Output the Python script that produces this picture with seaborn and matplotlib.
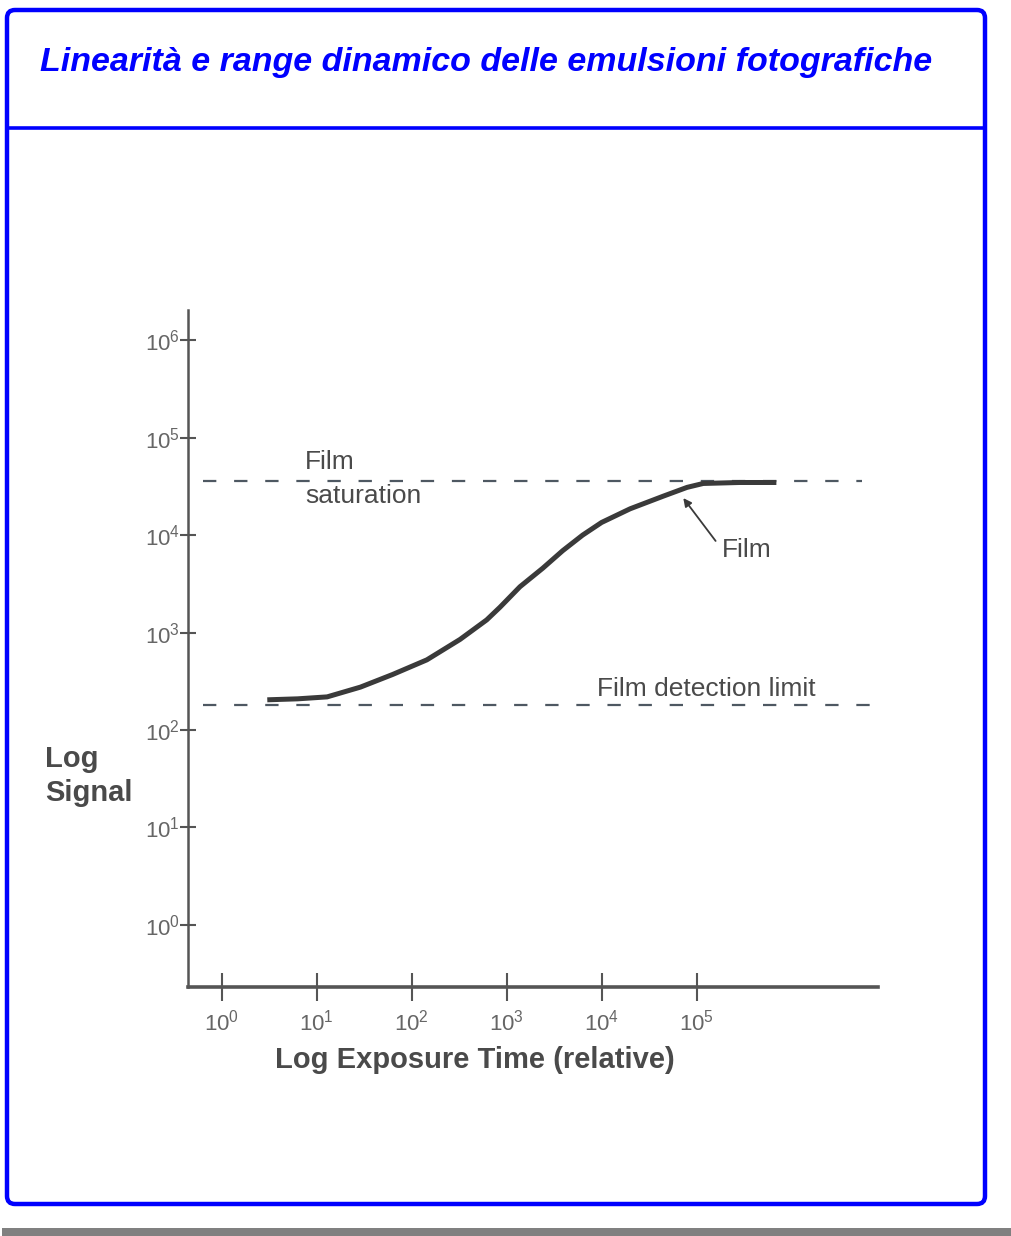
import numpy as np
import matplotlib
matplotlib.use('Agg')
import matplotlib.pyplot as plt
import seaborn as sns
from matplotlib.patches import FancyBboxPatch, Rectangle
from matplotlib.lines import Line2D
from matplotlib.ticker import FixedLocator, NullLocator, LogFormatterMathtext

sns.set_style('white')
plt.rcParams['font.family'] = ['Liberation Sans', 'DejaVu Sans']
plt.rcParams['mathtext.fontset'] = 'custom'
plt.rcParams['mathtext.rm'] = 'Liberation Sans'

# --- data (log10 units) ---
log_exposure = [0.48, 0.80, 1.11, 1.46, 1.80, 2.16, 2.51, 2.79, 2.93, 3.14,
                3.38, 3.59, 3.80, 4.00, 4.30, 4.65, 4.90, 5.07, 5.45, 5.84]
log_signal = [2.31, 2.32, 2.34, 2.44, 2.57, 2.72, 2.93, 3.13, 3.26, 3.47,
              3.66, 3.84, 4.00, 4.13, 4.27, 4.40, 4.49, 4.53, 4.54, 4.54]

saturation_level = 4.56
saturation_span = [-0.20, 6.74]
detection_level = 2.26
detection_span = [-0.20, 6.89]

x_tick_exp = [0, 1, 2, 3, 4, 5]
y_tick_exp = [0, 1, 2, 3, 4, 5, 6]

title = 'Linearità e range dinamico delle emulsioni fotografiche'

# --- figure (pixel helper: y measured from top) ---
W, H = 1011, 1236
fig = plt.figure(figsize=(W / 100, H / 100), dpi=100)
fig.patch.set_facecolor('white')


def px(x, y):
    return x / 100, (H - y) / 100


box_blue = '#0000ff'
fig.add_artist(FancyBboxPatch(px(7, 1204), 978 / 100, 1194 / 100,
                              boxstyle='round,pad=0,rounding_size=0.08',
                              lw=3.2, ec=box_blue, fc='none',
                              transform=fig.dpi_scale_trans))
x0, y0 = px(7, 128)
x1, _ = px(985, 128)
fig.add_artist(Line2D([x0, x1], [y0, y0], lw=2.6, color=box_blue,
                      transform=fig.dpi_scale_trans))
fig.add_artist(Rectangle(px(2, 1236), (W - 2) / 100, 8 / 100, fc='#808080',
                         ec='none', transform=fig.dpi_scale_trans))

tx, ty = px(40, 63)
fig.text(tx, ty, title, transform=fig.dpi_scale_trans, ha='left', va='center',
         fontsize=24.5, fontweight='bold', fontstyle='italic', color=box_blue)

# --- axes ---
ax = fig.add_axes([187.5 / W, (H - 987) / H, 690.5 / W, 677 / H])
gray = '#555555'

sns.lineplot(x=10 ** np.array(detection_span), y=[10 ** detection_level] * 2,
             ax=ax, color='#4e5862', lw=1.6, linestyle=(0, (6, 8)), sort=False)
sns.lineplot(x=10 ** np.array(saturation_span), y=[10 ** saturation_level] * 2,
             ax=ax, color='#4e5862', lw=1.6, linestyle=(0, (6, 8)), sort=False)
sns.lineplot(x=10 ** np.array(log_exposure), y=10 ** np.array(log_signal),
             ax=ax, color='#3a3a3a', lw=3.6, sort=False,
             solid_joinstyle='round', solid_capstyle='butt')

ax.set_xscale('log')
ax.set_yscale('log')
ax.set_xlim(10 ** -0.36, 10 ** 6.91)
ax.set_ylim(10 ** -0.637, 10 ** 6.31)
ax.xaxis.set_major_locator(FixedLocator([10.0 ** e for e in x_tick_exp]))
ax.yaxis.set_major_locator(FixedLocator([10.0 ** e for e in y_tick_exp]))
ax.xaxis.set_minor_locator(NullLocator())
ax.yaxis.set_minor_locator(NullLocator())
ax.xaxis.set_major_formatter(LogFormatterMathtext())
ax.yaxis.set_major_formatter(LogFormatterMathtext())

for side in ['top', 'right']:
    ax.spines[side].set_visible(False)
ax.spines['left'].set_color(gray)
ax.spines['left'].set_linewidth(1.8)
ax.spines['bottom'].set_color(gray)
ax.spines['bottom'].set_linewidth(2.6)

ax.tick_params(axis='x', which='major', bottom=True, direction='inout',
               length=20, width=1.5, color=gray, labelsize=16,
               labelcolor='#666666', pad=6)
ax.tick_params(axis='y', which='major', left=True, direction='inout',
               length=11, width=1.5, color=gray, labelsize=16,
               labelcolor='#666666', pad=0)

ax.set_xlabel('Log Exposure Time (relative)', fontsize=21, fontweight='bold',
              color='#4a4a4a')
ax.xaxis.set_label_coords((475 - 187.5) / 690.5, (987 - 1060) / 677)
ax.xaxis.label.set_va('center')
ax.set_ylabel('Log\nSignal', fontsize=21, fontweight='bold', color='#4a4a4a',
              rotation=0, ha='left', va='center', multialignment='left',
              linespacing=1.25)
ax.yaxis.set_label_coords((45 - 187.5) / 690.5, (987 - 776) / 677)

ann = dict(fontsize=19, color='#4a4a4a')
ax.text(10 ** 0.877, 10 ** 4.575, 'Film\nsaturation', ha='left', va='center',
        linespacing=1.5, **ann)
ax.text(10 ** 3.95, 10 ** 2.42, 'Film detection limit', ha='left', va='center', **ann)
ax.annotate('Film', xy=(10 ** 4.86, 10 ** 4.38), xytext=(10 ** 5.27, 10 ** 3.85),
            ha='left', va='center',
            arrowprops=dict(arrowstyle='-|>', color='#3a3a3a', lw=1.3,
                            shrinkA=4, shrinkB=0, relpos=(0, 0.5),
                            mutation_scale=12),
            **ann)

fig.savefig('out.png', dpi=100)
